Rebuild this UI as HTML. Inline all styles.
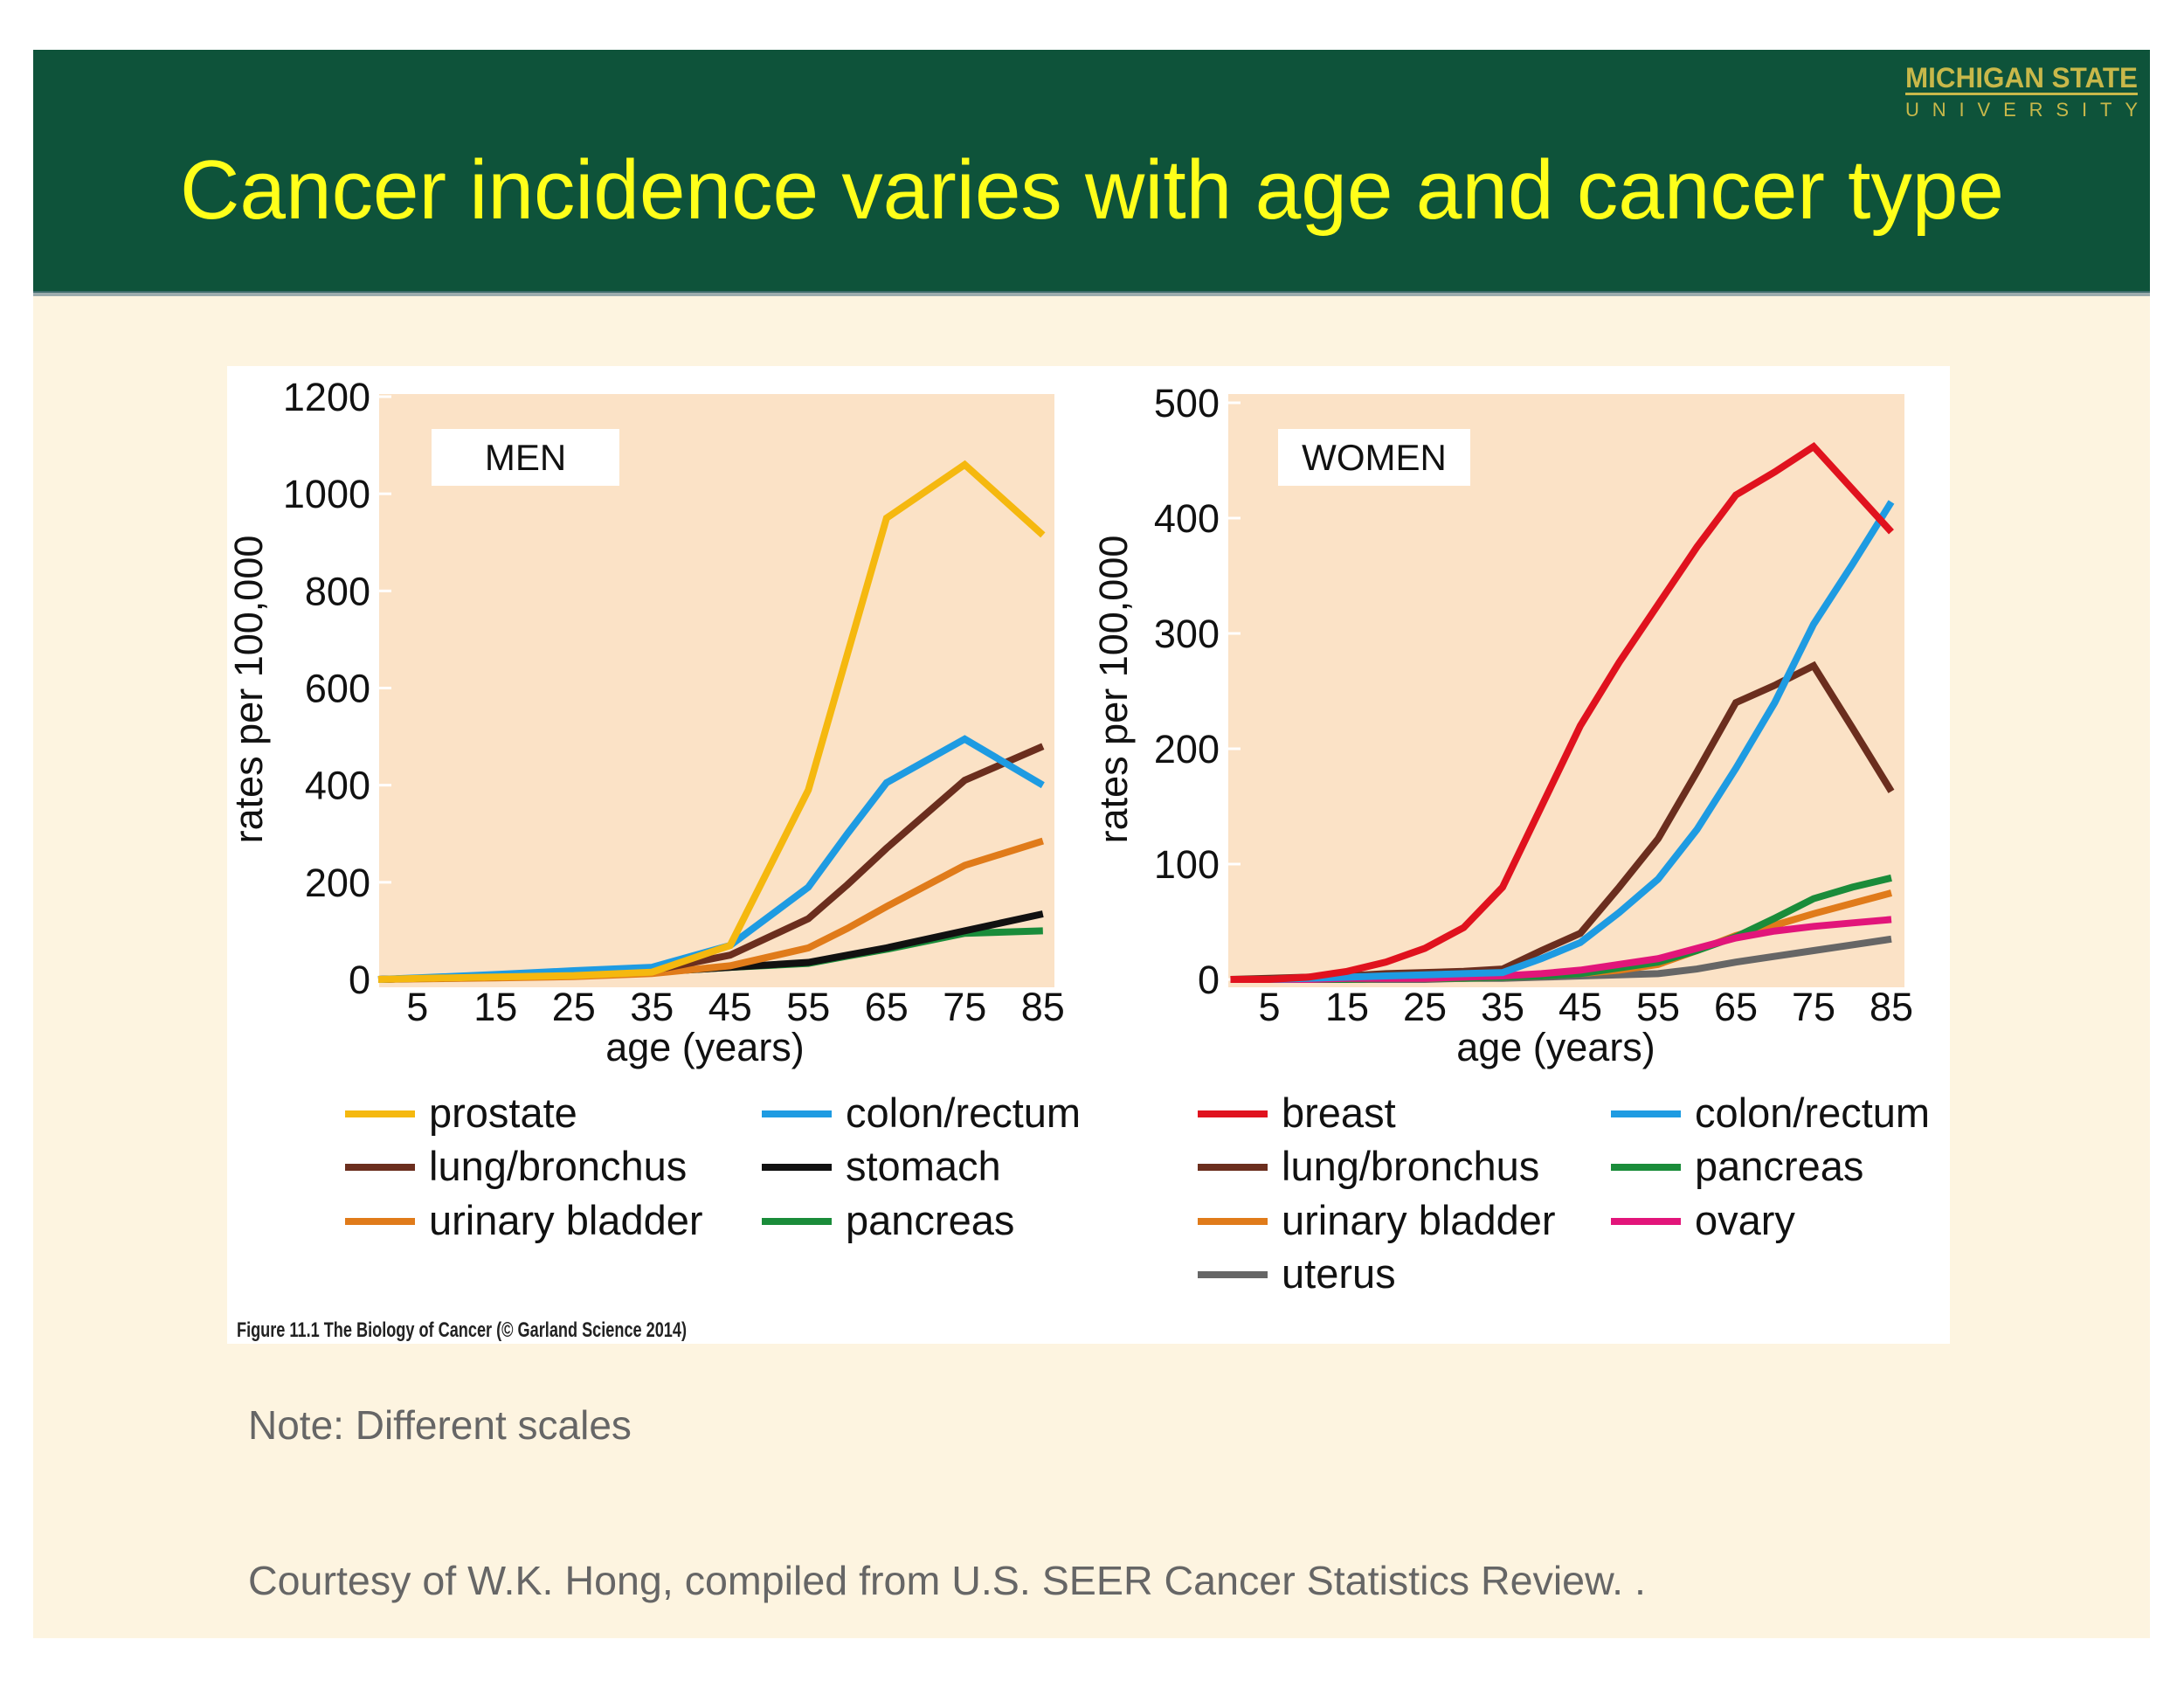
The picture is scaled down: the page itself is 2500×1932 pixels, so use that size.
<!DOCTYPE html>
<html><head><meta charset="utf-8"><style>
html,body{margin:0;padding:0;background:#fff}
svg{display:block}
text{font-family:"Liberation Sans",sans-serif}
</style></head><body>
<svg id="root" width="2500" height="1932" viewBox="0 0 2500 1932" xmlns="http://www.w3.org/2000/svg">
<rect x="0" y="0" width="2500" height="1932" fill="#ffffff"/>
<rect x="38" y="335" width="2423" height="1540" fill="#fdf4e0"/>
<rect x="38" y="57" width="2423" height="278" fill="#0e533a"/>
<rect x="38" y="333" width="2423" height="6" fill="#5a7a8a" opacity="0.6"/>
<text x="2314" y="100" font-size="32" font-weight="bold" fill="#c8b84a" text-anchor="middle" textLength="266" lengthAdjust="spacingAndGlyphs">MICHIGAN STATE</text>
<rect x="2181" y="106" width="266" height="3" fill="#c8b84a"/>
<text x="2314" y="133" font-size="22" fill="#c8b84a" text-anchor="middle" textLength="266" lengthAdjust="spacing">UNIVERSITY</text>
<text x="1250" y="250" font-size="96" fill="#ffff1a" text-anchor="middle" textLength="2088" lengthAdjust="spacingAndGlyphs">Cancer incidence varies with age and cancer type</text>
<rect x="260" y="419" width="1972" height="1119" fill="#ffffff"/>
<g id="men"></g>
<g id="women"></g>
<text x="271" y="1530" font-size="24" font-weight="bold" fill="#222" textLength="515" lengthAdjust="spacingAndGlyphs">Figure 11.1 The Biology of Cancer (© Garland Science 2014)</text>
<text x="284" y="1647" font-size="46" fill="#666">Note: Different scales</text>
<text x="284" y="1825" font-size="46" fill="#666" textLength="1600" lengthAdjust="spacingAndGlyphs">Courtesy of W.K. Hong, compiled from U.S. SEER Cancer Statistics Review. .</text>
</svg>
<script>
const menAges = [0,5,15,25,35,45,55,60,65,75,85];
const menProstate = [0,2,5,8,15,70,390,670,950,1060,915];
const menColon = [0,3,10,18,25,70,190,300,405,495,400];
const menLung = [0,2,5,10,18,50,125,195,270,410,480];
const menBladder = [0,1,3,6,12,28,65,105,150,235,285];
const menStomach = [0,2,6,10,15,25,35,50,65,100,135];
const menPancreas = [0,2,6,10,15,25,33,48,62,95,100];
const menYTicks = [0,200,400,600,800,1000,1200];

const womenAges = [0,5,10,15,20,25,30,35,40,45,50,55,60,65,70,75,80,85];
const womenBreast = [0,0,2,7,15,27,45,80,150,220,275,325,375,420,440,462,425,388];
const womenColon = [0,0,1,2,3,4,5,6,18,32,58,87,130,183,240,308,360,414];
const womenLung = [0,1,2,3,5,6,7,9,25,40,80,122,180,240,255,272,218,163];
const womenBladder = [0,0,0,0,1,1,1,2,3,5,8,13,25,38,47,57,66,75];
const womenPancreas = [0,0,0,0,1,1,1,2,3,5,10,15,25,37,53,70,80,88];
const womenOvary = [0,0,0,1,1,1,2,3,5,8,13,18,27,36,42,46,49,52];
const womenUterus = [0,0,0,0,0,0,1,1,2,3,4,5,9,15,20,25,30,35];
const womenYTicks = [0,100,200,300,400,500];

const xTicks = [5,15,25,35,45,55,65,75,85];
const NS = "http://www.w3.org/2000/svg";
function mk(parent, tag, attrs){
  const e = document.createElementNS(NS, tag);
  for (const k in attrs) e.setAttribute(k, attrs[k]);
  parent.appendChild(e);
  return e;
}
function drawChart(g, cfg){
  const x = a => cfg.x0 + a * cfg.xs;
  const y = v => cfg.yBase - v / cfg.yMax * (cfg.yBase - cfg.yTop);
  const bg = mk(g, 'rect', {x:cfg.px0, y:cfg.bgTop, width:cfg.px1-cfg.px0, height:cfg.yBase-cfg.bgTop+9, fill:'#fbe2c6'});
  
  
  cfg.yTicks.forEach(t => {
    const tk = mk(g, 'line', {x1:cfg.px0, x2:cfg.px0+14, y1:y(t), y2:y(t), stroke:'#ffffff', 'stroke-width':3});
    
    
    const tl = mk(g, 'text', {x:cfg.px0-10, y:y(t)+16, 'font-size':45, 'text-anchor':'end', fill:'#111'});
    tl.textContent = t;
    
    
  });
  xTicks.forEach(t => {
    const tl = mk(g, 'text', {x:x(t), y:1168, 'font-size':45, 'text-anchor':'middle', fill:'#111'});
    tl.textContent = t;
    
    
  });
  const xt = mk(g, 'text', {x:cfg.xTitleX, y:1214, 'font-size':45, 'text-anchor':'middle', fill:'#111'});
  xt.textContent = 'age (years)';
  
  
  const yt = mk(g, 'text', {x:0, y:0, 'font-size':45, 'text-anchor':'middle', fill:'#111', transform:`translate(${cfg.yTitleX},789) rotate(-90)`});
  yt.textContent = 'rates per 100,000';
  
  
  const lb = mk(g, 'rect', {x:cfg.boxX, y:491, width:cfg.boxW, height:65, fill:'#ffffff'});
  
  
  const lt = mk(g, 'text', {x:cfg.boxX+cfg.boxW/2, y:538, 'font-size':42, 'text-anchor':'middle', fill:'#111'});
  lt.textContent = cfg.label;
  
  
  cfg.series.forEach(s => {
    const d = cfg.ages.map((a,i) => (i ? 'L' : 'M') + x(a).toFixed(1) + ',' + y(s.vals[i]).toFixed(1)).join(' ');
    const p = mk(g, 'path', {d:d, fill:'none', stroke:s.color, 'stroke-width':8, 'stroke-linejoin':'miter'});
    
    
  });
  cfg.legend.forEach(s => {
    const sw = mk(g, 'line', {x1:s.lx, x2:s.lx+80, y1:s.ly, y2:s.ly, stroke:s.color, 'stroke-width':8});
    
    
    const t = mk(g, 'text', {x:s.lx+96, y:s.ly+15, 'font-size':47, fill:'#111'});
    t.textContent = s.name;
    
    
  });
}
const C = {prostate:'#f5b80f', colon:'#1e9be2', lung:'#6b2e1e', bladder:'#e07b1a', stomach:'#111111', pancreas:'#1a8c3a', breast:'#e0121e', ovary:'#e2157a', uterus:'#666666'};
drawChart(document.getElementById('men'), {
  x0:433, xs:8.95, yBase:1121, yTop:454, bgTop:451, yMax:1200, px0:434, px1:1207, yTicks:menYTicks, ages:menAges,
  xTitleX:807, yTitleX:300, boxX:494, boxW:215, label:'MEN',
  series:[
    {key:'pancreas', color:C.pancreas, vals:menPancreas},
    {key:'stomach', color:C.stomach, vals:menStomach},
    {key:'bladder', color:C.bladder, vals:menBladder},
    {key:'lung', color:C.lung, vals:menLung},
    {key:'colon', color:C.colon, vals:menColon},
    {key:'prostate', color:C.prostate, vals:menProstate}],
  legend:[
    {name:'prostate', color:C.prostate, lx:395, ly:1275},
    {name:'lung/bronchus', color:C.lung, lx:395, ly:1336},
    {name:'urinary bladder', color:C.bladder, lx:395, ly:1398},
    {name:'colon/rectum', color:C.colon, lx:872, ly:1275},
    {name:'stomach', color:C.stomach, lx:872, ly:1336},
    {name:'pancreas', color:C.pancreas, lx:872, ly:1398}]
});
drawChart(document.getElementById('women'), {
  x0:1408.5, xs:8.9, yBase:1121, yTop:461, bgTop:451, yMax:500, px0:1406, px1:2180, yTicks:womenYTicks, ages:womenAges,
  xTitleX:1781, yTitleX:1290, boxX:1463, boxW:220, label:'WOMEN',
  series:[
    {key:'uterus', color:C.uterus, vals:womenUterus},
    {key:'bladder', color:C.bladder, vals:womenBladder},
    {key:'pancreas', color:C.pancreas, vals:womenPancreas},
    {key:'ovary', color:C.ovary, vals:womenOvary},
    {key:'lung', color:C.lung, vals:womenLung},
    {key:'colon', color:C.colon, vals:womenColon},
    {key:'breast', color:C.breast, vals:womenBreast}],
  legend:[
    {name:'breast', color:C.breast, lx:1371, ly:1275},
    {name:'lung/bronchus', color:C.lung, lx:1371, ly:1336},
    {name:'urinary bladder', color:C.bladder, lx:1371, ly:1398},
    {name:'uterus', color:C.uterus, lx:1371, ly:1459},
    {name:'colon/rectum', color:C.colon, lx:1844, ly:1275},
    {name:'pancreas', color:C.pancreas, lx:1844, ly:1336},
    {name:'ovary', color:C.ovary, lx:1844, ly:1398}]
});
</script>
</body></html>
